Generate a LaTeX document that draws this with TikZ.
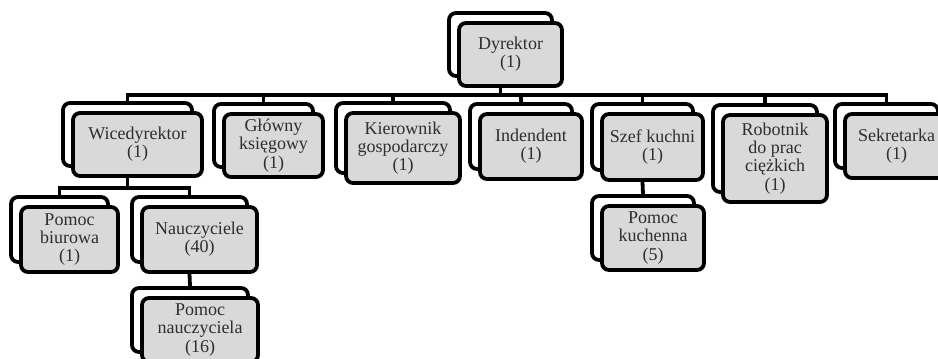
\documentclass[tikz,border=0pt]{standalone}
\usepackage{fontspec}
\setmainfont{Liberation Serif}
\definecolor{boxfill}{HTML}{D9D9DA}
\definecolor{txt}{HTML}{2E2E2E}
\tikzset{
  boxbase/.style={draw=black, line width=3.8pt, rounded corners=7pt, inner sep=0pt},
  backbox/.style={boxbase, fill=white},
  frontbox/.style={boxbase, fill=boxfill, text=txt, align=center,
    font=\fontsize{18}{18.3}\selectfont},
  conn/.style={draw=black, line width=3.8pt}
}
\newcommand{\orgbox}[6]{%
  \node[backbox, minimum width=#4pt, minimum height=#5pt] (#1b) at (#2-10,#3+10) {};
  \node[frontbox, minimum width=#4pt, minimum height=#5pt] (#1) at (#2,#3) {#6};
}
\begin{document}
\begin{tikzpicture}[x=1pt,y=1pt]
\useasboundingbox (0,0) rectangle (938,359);
\clip (0,0) rectangle (938,359);
\coordinate (bus1) at (0,264);
\coordinate (bus2) at (0,171);
\orgbox{dyr}{510.5}{304.5}{103}{63}{Dyrektor\\(1)}
\orgbox{wice}{137.5}{214.5}{129}{63}{Wicedyrektor\\(1)}
\orgbox{glow}{273.5}{213.5}{99}{63}{Główny\\księgowy\\(1)}
\orgbox{kier}{403}{211}{114}{70}{Kierownik\\gospodarczy\\(1)}
\orgbox{ind}{531}{212.5}{102}{65}{Indendent\\(1)}
\orgbox{szef}{652.5}{212}{101}{66}{Szef kuchni\\(1)}
\orgbox{rob}{775}{200.5}{104}{87}{Robotnik\\do prac\\ciężkich\\(1)}
\orgbox{sekr}{896.5}{213}{103}{64}{Sekretarka\\(1)}
\orgbox{biur}{69.5}{119.5}{97}{65}{Pomoc\\biurowa\\(1)}
\orgbox{naucz}{199.5}{119.5}{115}{65}{Nauczyciele\\(40)}
\orgbox{pnau}{200}{29}{116}{64}{Pomoc\\nauczyciela\\(16)}
\orgbox{kuch}{653}{121}{102}{64}{Pomoc\\kuchenna\\(5)}
\foreach \c in {wice,glow,kier,ind,szef,rob,sekr}{
  \draw[conn] (dyrb.south |- dyr.south) -- (dyrb.south |- bus1) -| (\c b.north);
}
\foreach \c in {biur,naucz}{
  \draw[conn] (wiceb.south |- wice.south) -- (wiceb.south |- bus2) -| (\c b.north);
}
\draw[conn] (nauczb.south |- naucz.south) -- (pnaub.north);
\draw[conn] (szefb.south |- szef.south) -- (kuchb.north);
\end{tikzpicture}
\end{document}
